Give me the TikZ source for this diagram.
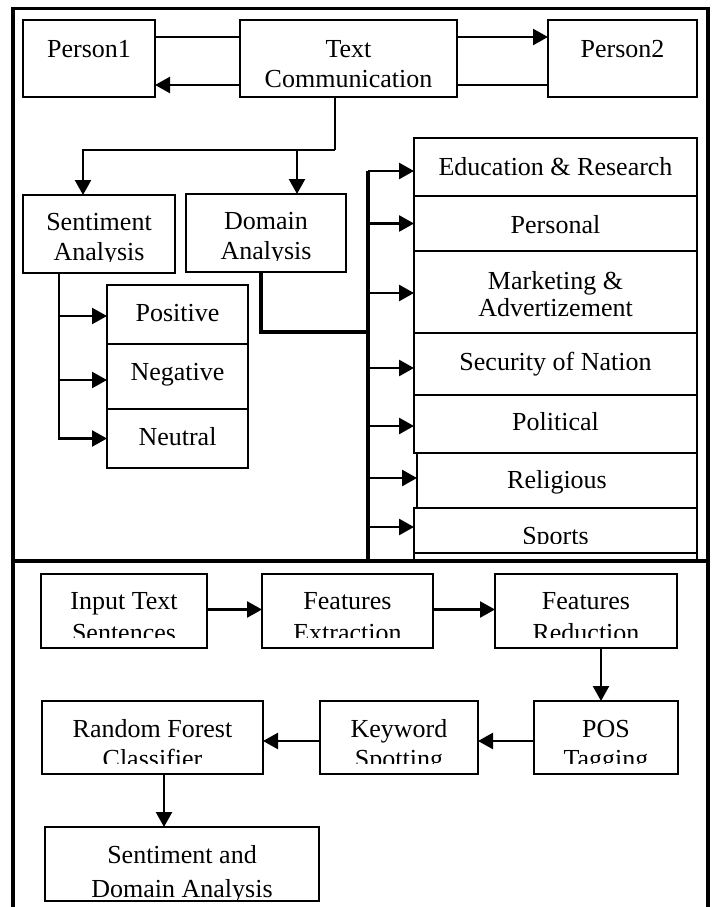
\documentclass[tikz,border=0pt]{standalone}
\usepackage{fontspec}
\setmainfont{Liberation Serif}
\usetikzlibrary{arrows.meta}
\tikzset{
  box/.style={draw, line width=1.7pt, inner sep=0pt, outer sep=0pt},
  txt/.style={anchor=base, inner sep=0pt, outer sep=0pt, font=\fontsize{26}{30}\selectfont},
  conn/.style={line width=2.4pt},
  arr/.style={line width=2.4pt, -{Triangle[length=15pt,width=16pt]}},
  busln/.style={line width=3.2pt},
  barr/.style={line width=2.7pt, -{Triangle[length=15pt,width=16pt]}},
  frameln/.style={line width=3.6pt, line join=miter},
}
\newcommand\mkbox[5]{\node[box, minimum width={(#4-#2)*1pt}, minimum height={(#5-#3)*1pt}] (#1) at ({(#2+#4)/2},{(#3+#5)/2}) {};}
\begin{document}
\begin{tikzpicture}[x=1pt,y=-1pt]
\useasboundingbox (0,0) rectangle (712,907);
% outer frames
\draw[frameln] (13,920) -- (13,8.5) -- (708,8.5) -- (708,920);
\draw[frameln] (13,561) -- (708,561);
% boxes, upper part
\mkbox{p1}{23}{20}{155}{97}
\mkbox{tc}{240}{20}{457}{97}
\mkbox{p2}{548}{20}{697}{97}
\mkbox{sa}{23}{195}{175}{273}
\mkbox{da}{186}{194}{346}{272}
\mkbox{posb}{107}{285}{248}{344}
\mkbox{negb}{107}{344}{248}{409}
\mkbox{neub}{107}{409}{248}{468}
\mkbox{edu}{414}{138}{697}{196}
\mkbox{per}{414}{196}{697}{251}
\mkbox{mkt}{414}{251}{697}{333}
\mkbox{secb}{414}{333}{697}{395}
\mkbox{pol}{414}{395}{697}{453}
\mkbox{rel}{417}{453}{697}{508}
\mkbox{spo}{414}{508}{697}{553}
\mkbox{more}{414}{553}{697}{561}
% boxes, lower part
\mkbox{inp}{41}{574}{207}{648}
\mkbox{fe}{262}{574}{433}{648}
\mkbox{fr}{495}{574}{677}{648}
\mkbox{rf}{42}{701}{263}{774}
\mkbox{kw}{320}{701}{478}{774}
\mkbox{tag}{534}{701}{678}{774}
\mkbox{sda}{45}{827}{319}{901}
% top connectors
\draw[conn] ([yshift=-17pt]p1.north east) -- ([yshift=-17pt]tc.north west);
\draw[arr] ([yshift=12pt]tc.south west) -- ([yshift=12pt]p1.south east);
\draw[arr] ([yshift=-17pt]tc.north east) -- ([yshift=-17pt]p2.north west);
\draw[conn] ([yshift=12pt]p2.south west) -- ([yshift=12pt]tc.south east);
% down from text communication
\coordinate (j1) at (335,150);
\draw[conn] (tc.south -| j1) -- (j1);
\draw[arr] (j1) -| ([xshift=-16pt]sa.north);
\draw[arr] ([xshift=31pt]da.north |- j1) -- ([xshift=31pt]da.north);
% sentiment bus
\coordinate (sb) at ([xshift=-40pt]sa.south);
\draw[arr] (sb) |- (neub.west);
\draw[arr] ([yshift=-1.5pt]sb |- posb.west) -- ([yshift=-1.5pt]posb.west);
\draw[arr] ([yshift=-3.5pt]sb |- negb.west) -- ([yshift=-3.5pt]negb.west);
% domain bus
\coordinate (bt) at (368,171);
\coordinate (bb) at (368,561);
\coordinate (dj) at (368,332);
\draw[busln] ([xshift=-5pt]da.south) |- (dj);
\draw[busln] (bt) -- (bb);
\draw[barr] ([yshift=-4pt]edu.west -| bt) -- ([yshift=-4pt]edu.west);
\draw[barr] (per.west -| bt) -- (per.west);
\draw[barr] ([yshift=-1pt]mkt.west -| bt) -- ([yshift=-1pt]mkt.west);
\draw[barr] ([yshift=-4pt]secb.west -| bt) -- ([yshift=-4pt]secb.west);
\draw[barr] ([yshift=-2pt]pol.west -| bt) -- ([yshift=-2pt]pol.west);
\draw[barr] ([yshift=2.5pt]rel.west -| bt) -- ([yshift=2.5pt]rel.west);
\draw[barr] ([yshift=3.5pt]spo.west -| bt) -- ([yshift=3.5pt]spo.west);
% lower connectors
\draw[arr] ([yshift=1.5pt]inp.east) -- ([yshift=1.5pt]fe.west);
\draw[arr] ([yshift=1.5pt]fe.east) -- ([yshift=1.5pt]fr.west);
\draw[arr] ([xshift=15pt]fr.south) -- ([xshift=15pt]fr.south |- tag.north);
\draw[arr] ([yshift=-3.5pt]tag.west) -- ([yshift=-3.5pt]tag.west -| kw.east);
\draw[arr] ([yshift=-3.5pt]kw.west) -- ([yshift=-3.5pt]kw.west -| rf.east);
\draw[arr] ([xshift=11.5pt]rf.south) -- ([xshift=11.5pt]rf.south |- sda.north);
% texts
\node[txt] (t-p1) at (89,57) {Person1};
\node[txt] (t-tc1) at (348.5,57) {Text};
\node[txt] (t-tc2) at (348.5,87) {Communication};
\node[txt] (t-p2) at (622.5,57) {Person2};
\node[txt] (t-sa1) at (99,230) {Sentiment};
\begin{scope}\clip (23,195) rectangle (175,261);
\node[txt] (t-sa2) at (99,260) {Analysis};
\end{scope}
\node[txt] (t-da1) at (266,229) {Domain};
\begin{scope}\clip (186,194) rectangle (346,260);
\node[txt] (t-da2) at (266,259) {Analysis};
\end{scope}
\node[txt] (t-pos) at (177.5,321) {Positive};
\node[txt] (t-neg) at (177.5,380) {Negative};
\node[txt] (t-neu) at (177.5,445) {Neutral};
\node[txt] (t-edu) at (555.5,175) {Education \& Research};
\node[txt] (t-per) at (555.5,233) {Personal};
\node[txt] (t-mkt1) at (555.5,289) {Marketing \&};
\node[txt] (t-mkt2) at (555.5,316) {Advertizement};
\node[txt] (t-sec) at (555.5,370) {Security of Nation};
\node[txt] (t-pol) at (555.5,430) {Political};
\node[txt] (t-rel) at (557,488) {Religious};
\begin{scope}\clip (414,508) rectangle (697,543);
\node[txt] (t-spo) at (555.5,544) {Sports};
\end{scope}
\node[txt] (t-in1) at (124,609) {Input Text};
\node[txt] (t-fe1) at (347.5,609) {Features};
\node[txt] (t-fr1) at (586,609) {Features};
\begin{scope}\clip (30,574) rectangle (690,637);
\node[txt] (t-in2) at (124,641) {Sentences};
\node[txt] (t-fe2) at (347.5,641) {Extraction};
\node[txt] (t-fr2) at (586,641) {Reduction};
\end{scope}
\node[txt] (t-rf1) at (152.5,737) {Random Forest};
\node[txt] (t-kw1) at (399,737) {Keyword};
\node[txt] (t-tag1) at (606,737) {POS};
\begin{scope}\clip (30,701) rectangle (690,763);
\node[txt] (t-rf2) at (152.5,767) {Classifier};
\node[txt] (t-kw2) at (399,767) {Spotting};
\node[txt] (t-tag2) at (606,767) {Tagging};
\end{scope}
\node[txt] (t-sda1) at (182,863) {Sentiment and};
\begin{scope}\clip (45,827) rectangle (319,900);
\node[txt] (t-sda2) at (182,897) {Domain Analysis};
\end{scope}
\end{tikzpicture}
\end{document}
